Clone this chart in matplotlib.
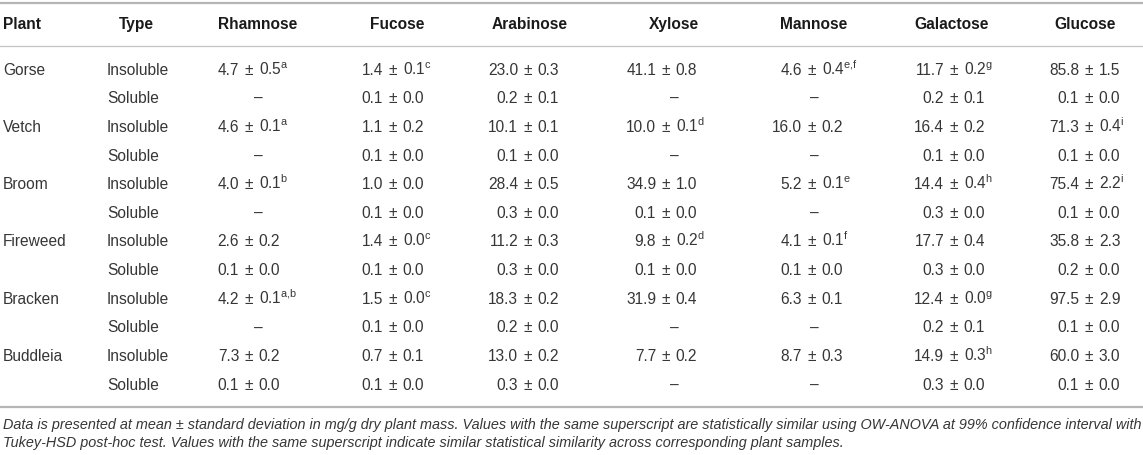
import matplotlib.pyplot as plt


plt.rcParams["font.family"] = ["Liberation Sans", "DejaVu Sans"]
plt.rcParams["mathtext.fontset"] = "custom"
plt.rcParams["mathtext.rm"] = "Liberation Sans"
plt.rcParams["mathtext.it"] = "Liberation Sans:italic"

plants = ["Gorse", "Vetch", "Broom", "Fireweed", "Bracken", "Buddleia"]
types = ["Insoluble", "Soluble"]
sugars = ["Rhamnose", "Fucose", "Arabinose", "Xylose", "Mannose", "Galactose", "Glucose"]

# rows: each plant insoluble then soluble; (mean, sd, superscript) or None for "–"
rhamnose = [(4.7, 0.5, "a"), None, (4.6, 0.1, "a"), None, (4.0, 0.1, "b"), None,
            (2.6, 0.2, ""), (0.1, 0.0, ""), (4.2, 0.1, "a,b"), None, (7.3, 0.2, ""), (0.1, 0.0, "")]
fucose = [(1.4, 0.1, "c"), (0.1, 0.0, ""), (1.1, 0.2, ""), (0.1, 0.0, ""), (1.0, 0.0, ""), (0.1, 0.0, ""),
          (1.4, 0.0, "c"), (0.1, 0.0, ""), (1.5, 0.0, "c"), (0.1, 0.0, ""), (0.7, 0.1, ""), (0.1, 0.0, "")]
arabinose = [(23.0, 0.3, ""), (0.2, 0.1, ""), (10.1, 0.1, ""), (0.1, 0.0, ""), (28.4, 0.5, ""), (0.3, 0.0, ""),
             (11.2, 0.3, ""), (0.3, 0.0, ""), (18.3, 0.2, ""), (0.2, 0.0, ""), (13.0, 0.2, ""), (0.3, 0.0, "")]
xylose = [(41.1, 0.8, ""), None, (10.0, 0.1, "d"), None, (34.9, 1.0, ""), (0.1, 0.0, ""),
          (9.8, 0.2, "d"), (0.1, 0.0, ""), (31.9, 0.4, ""), None, (7.7, 0.2, ""), None]
mannose = [(4.6, 0.4, "e,f"), None, (16.0, 0.2, ""), None, (5.2, 0.1, "e"), None,
           (4.1, 0.1, "f"), (0.1, 0.0, ""), (6.3, 0.1, ""), None, (8.7, 0.3, ""), None]
galactose = [(11.7, 0.2, "g"), (0.2, 0.1, ""), (16.4, 0.2, ""), (0.1, 0.0, ""), (14.4, 0.4, "h"), (0.3, 0.0, ""),
             (17.7, 0.4, ""), (0.3, 0.0, ""), (12.4, 0.0, "g"), (0.2, 0.1, ""), (14.9, 0.3, "h"), (0.3, 0.0, "")]
glucose = [(85.8, 1.5, ""), (0.1, 0.0, ""), (71.3, 0.4, "i"), (0.1, 0.0, ""), (75.4, 2.2, "i"), (0.1, 0.0, ""),
           (35.8, 2.3, ""), (0.2, 0.0, ""), (97.5, 2.9, ""), (0.1, 0.0, ""), (60.0, 3.0, ""), (0.1, 0.0, "")]
columns = [rhamnose, fucose, arabinose, xylose, mannose, galactose, glucose]

footnote = [
    "Data is presented at mean \u00b1 standard deviation in mg/g dry plant mass. Values with the same superscript "
    "are statistically similar using OW-ANOVA at 99% confidence interval with",
    "Tukey-HSD post-hoc test. Values with the same superscript indicate similar statistical similarity across "
    "corresponding plant samples.",
]

# layout in pixels
W, H = 1143, 455
head_x = [258, 397, 530, 674, 814, 952, 1085]
pm_x = [249, 393, 528, 666, 812, 954, 1089]
gap = 9.8
row_y0, row_dy = 69, 28.65
fs = 11.2
base = 5.6
body = "#363636"
head = "#1a1a1a"

fig = plt.figure(figsize=(W / 100, H / 100), dpi=100)
ax = fig.add_axes([0, 0, 1, 1])
ax.set_xlim(0, W)
ax.set_ylim(H, 0)
ax.axis("off")

ax.plot([0, W], [3, 3], color="#b5b5b5", lw=1.6)
ax.plot([0, W], [46, 46], color="#c4c4c4", lw=0.9)
ax.plot([0, W], [407, 407], color="#b5b5b5", lw=1.6)

ax.text(3, 23 + base, "Plant", fontsize=fs, fontweight="bold", color=head, va="baseline")
ax.text(136, 23 + base, "Type", fontsize=fs, fontweight="bold", color=head, va="baseline", ha="center")
for x, name in zip(head_x, sugars):
    ax.text(x, 23 + base, name, fontsize=fs, fontweight="bold", color=head, va="baseline", ha="center")

for i, plant in enumerate(plants):
    y = row_y0 + 2 * i * row_dy + base
    ax.text(3, y, plant, fontsize=fs, color=body, va="baseline")
    for j, t in enumerate(types):
        ax.text(107, y + j * row_dy, t, fontsize=fs, color=body, va="baseline")

for c, col in enumerate(columns):
    for r, cell in enumerate(col):
        y = row_y0 + r * row_dy + base
        if cell is None:
            ax.text(head_x[c], y, "\u2013", fontsize=fs, color=body, va="baseline", ha="center")
            continue
        mean, sd, sup = cell
        ax.text(pm_x[c] - gap, y, f"{mean:.1f}", fontsize=fs, color=body, va="baseline", ha="right")
        ax.text(pm_x[c], y, "\u00b1", fontsize=fs, color=body, va="baseline", ha="center")
        sd_txt = f"{sd:.1f}"
        if sup:
            sd_txt += r"$^{\mathrm{" + sup.replace(",", "{,}") + "}}$"
        ax.text(pm_x[c] + gap, y, sd_txt, fontsize=fs, color=body, va="baseline", ha="left")

for k, line in enumerate(footnote):
    ax.text(3, 425 + 17 * k + 4.5, line, fontsize=10.4, style="italic", color=body, va="baseline")

fig.savefig("out.png", dpi=100)
